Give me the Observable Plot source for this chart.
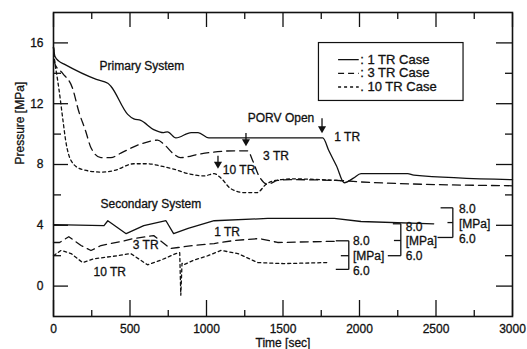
<!DOCTYPE html>
<html><head><meta charset="utf-8">
<script src="https://cdn.jsdelivr.net/npm/d3@7"></script>
<script src="https://cdn.jsdelivr.net/npm/@observablehq/plot@0.6"></script>
<style>
body{margin:0;background:#fff}
#chart svg{font-family:"Liberation Sans",Arial,sans-serif;display:block}
#chart svg text{stroke:#111;stroke-width:0.3px}
</style>
</head><body><div id="chart"></div>
<script>
// ---- Tick values ----
const xMajor = [0, 500, 1000, 1500, 2000, 2500, 3000];
const xMinor = [250, 750, 1250, 1750, 2250, 2750];
const yMajor = [0, 4, 8, 12, 16];
const yMinor = [2, 6, 10, 14];

// ---- Primary system pressure [MPa] ----
const prim1Time = [0, 10, 35, 70, 280, 355, 375, 485, 525, 570, 655, 720, 745, 800, 900, 945, 1015, 1760, 1800, 1850, 1900, 1960, 2010, 2315, 2355, 3000];
const prim1Pres = [15.7, 15.1, 14.8, 14.6, 13.6, 13.35, 13.15, 11.3, 11.0, 10.9, 10.3, 10.1, 10.15, 9.75, 10.1, 10.1, 9.75, 9.75, 8.9, 7.9, 6.8, 7.1, 7.4, 7.4, 7.3, 7.0];

const prim3Time = [0, 10, 60, 125, 165, 210, 245, 310, 375, 440, 570, 680, 720, 785, 830, 960, 1180, 1270, 1300, 1340, 1400, 1465, 1550, 1900, 2010, 3000];
const prim3Pres = [15.7, 14.6, 14.0, 13.0, 11.5, 10.2, 9.1, 8.45, 8.45, 8.75, 9.35, 9.6, 9.35, 8.7, 8.45, 8.7, 8.9, 8.9, 8.3, 7.3, 6.7, 6.95, 7.0, 6.93, 6.85, 6.6];

const prim10Time = [0, 10, 15, 35, 60, 80, 115, 180, 310, 395, 525, 615, 700, 785, 880, 985, 1050, 1095, 1160, 1250, 1330, 1390, 1450, 1570, 1900];
const prim10Pres = [15.7, 14.6, 14.3, 13.0, 11.05, 9.55, 8.25, 7.7, 7.5, 7.6, 8.05, 8.05, 7.9, 7.7, 7.4, 7.25, 7.4, 7.1, 6.4, 6.15, 6.15, 6.7, 6.95, 7.05, 6.93];

// ---- Secondary system pressure (offset scale) ----
const sec1Time = [0, 330, 355, 475, 590, 735, 785, 880, 1050, 1400, 1835, 2010, 2485];
const sec1Pres = [4.05, 3.98, 4.3, 3.45, 3.98, 4.3, 3.45, 3.8, 4.3, 4.45, 4.45, 4.25, 4.1];

const sec3Time = [0, 40, 100, 180, 245, 310, 440, 525, 655, 765, 815, 915, 1050, 1180, 1345, 1465, 1845];
const sec3Pres = [2.87, 2.87, 3.25, 2.67, 2.34, 2.67, 2.93, 3.13, 3.32, 2.47, 2.54, 2.67, 2.8, 3.0, 3.13, 2.87, 2.95];

const sec10Time = [0, 50, 115, 190, 265, 420, 505, 570, 615, 700, 800, 825, 832, 840, 850, 915, 1010, 1095, 1205, 1335, 1505, 1790];
const sec10Pres = [2.0, 2.35, 2.14, 1.55, 1.8, 2.0, 2.14, 1.7, 1.4, 1.7, 2.14, 2.2, -0.6, 1.5, 1.4, 1.7, 2.0, 2.35, 2.14, 1.55, 1.48, 1.55];

// ---- Legend ----
const legendLabels = [": 1 TR Case", ": 3 TR Case", ". 10 TR Case"];

const pts = (ts, ps) => ts.map((t, i) => ({t, p: ps[i]}));
const FONT = 12;
const INK = "#111";

// annotation helpers (data units)
const seg = (x1, y1, x2, y2) => ({x1, y1, x2, y2});
const bracketSegs = [
  // bracket 1
  seg(1930, 1.1, 1930, 2.98), seg(1845, 2.98, 1930, 2.98), seg(1878, 2.0, 1930, 2.0), seg(1845, 1.1, 1930, 1.1),
  seg(2185, 2.0, 2270, 2.0),
  // bracket 2
  seg(2270, 2.0, 2270, 4.1), seg(2218, 4.1, 2270, 4.1), seg(2225, 3.0, 2270, 3.0),
  seg(2510, 3.2, 2610, 3.2),
  // bracket 3
  seg(2610, 3.2, 2610, 5.15), seg(2530, 5.15, 2610, 5.15), seg(2575, 4.18, 2610, 4.18)
];
const bracketText = [
  {x: 1957, y: 2.95, s: "8.0"}, {x: 1957, y: 1.98, s: "[MPa]"}, {x: 1957, y: 1.0, s: "6.0"},
  {x: 2302, y: 3.88, s: "8.0"}, {x: 2302, y: 2.95, s: "[MPa]"}, {x: 2302, y: 1.95, s: "6.0"},
  {x: 2650, y: 5.05, s: "8.0"}, {x: 2650, y: 4.1, s: "[MPa]"}, {x: 2650, y: 3.1, s: "6.0"}
];
const arrows = [
  {x: 1755, y1: 11.05, y2: 10.07},
  {x: 1258, y1: 10.07, y2: 9.2},
  {x: 1075, y1: 8.57, y2: 7.72}
];
const labelsStart = [
  {x: 1835, y: 9.8, s: "1 TR"},
  {x: 1370, y: 8.56, s: "3 TR"},
  {x: 1107, y: 7.64, s: "10 TR"},
  {x: 1050, y: 3.55, s: "1 TR"},
  {x: 518, y: 2.67, s: "3 TR"}
];
const labelsMid = [
  {x: 578, y: 14.47, s: "Primary System"},
  {x: 636, y: 5.4, s: "Secondary System"},
  {x: 1487, y: 11.05, s: "PORV Open"},
  {x: 368, y: 0.9, s: "10 TR"}
];
const legendY = [14.9, 14.0, 13.1];
const legendDash = [null, "6,4", "3,3"];

const lineMark = (ts, ps, dash, curve) => Plot.line(pts(ts, ps), {
  x: "t", y: "p", stroke: INK, strokeWidth: 1.3, strokeDasharray: dash, curve
});

const chart = Plot.plot({
  width: 527, height: 349,
  marginLeft: 53, marginRight: 15, marginTop: 12, marginBottom: 33,
  style: {fontFamily: '"Liberation Sans", Arial, sans-serif', fontSize: FONT + "px", color: INK, background: "#fff", overflow: "visible"},
  x: {domain: [0, 3000]},
  y: {domain: [-2, 18]},
  marks: [
    // axes: labels
    Plot.axisX({anchor: "bottom", ticks: xMajor, tickSize: 0, tickPadding: 8, tickFormat: "d", label: null, fontSize: FONT}),
    Plot.axisY({anchor: "left", ticks: yMajor, tickSize: 0, tickPadding: 10, tickFormat: "d", label: null, fontSize: FONT}),
    // inward ticks
    Plot.axisX({anchor: "bottom", ticks: xMajor, tickSize: -16, tickFormat: () => "", label: null, strokeWidth: 1.3}),
    Plot.axisX({anchor: "bottom", ticks: xMinor, tickSize: -6, tickFormat: () => "", label: null, strokeWidth: 1.3}),
    Plot.axisX({anchor: "top", ticks: xMajor, tickSize: -14, tickFormat: () => "", label: null, strokeWidth: 1.3}),
    Plot.axisX({anchor: "top", ticks: xMinor, tickSize: -6, tickFormat: () => "", label: null, strokeWidth: 1.3}),
    Plot.axisY({anchor: "left", ticks: yMajor, tickSize: -15, tickFormat: () => "", label: null, strokeWidth: 1.3}),
    Plot.axisY({anchor: "left", ticks: yMinor, tickSize: -8, tickFormat: () => "", label: null, strokeWidth: 1.3}),
    Plot.axisY({anchor: "right", ticks: yMajor, tickSize: -17, tickFormat: () => "", label: null, strokeWidth: 1.3}),
    Plot.axisY({anchor: "right", ticks: yMinor, tickSize: -8, tickFormat: () => "", label: null, strokeWidth: 1.3}),
    Plot.frame({stroke: INK, strokeWidth: 1.6}),

    // axis titles
    Plot.text(["Pressure [MPa]"], {frameAnchor: "left", dx: -33, rotate: -90, text: d => d, fontSize: FONT, fill: INK}),
    Plot.text(["Time [sec]"], {frameAnchor: "bottom", dy: 30, text: d => d, fontSize: FONT, fill: INK}),

    // data curves
    lineMark(prim1Time, prim1Pres, null, "monotone-x"),
    lineMark(prim3Time, prim3Pres, "8,5", "monotone-x"),
    lineMark(prim10Time, prim10Pres, "3,3", "monotone-x"),
    lineMark(sec1Time, sec1Pres, null, "linear"),
    lineMark(sec3Time, sec3Pres, "8,5", "linear"),
    lineMark(sec10Time, sec10Pres, "3,3", "linear"),

    // annotations
    Plot.link(bracketSegs, {x1: "x1", y1: "y1", x2: "x2", y2: "y2", stroke: INK, strokeWidth: 1.3}),
    Plot.text(bracketText, {x: "x", y: "y", text: "s", textAnchor: "start", fontSize: FONT, fill: INK}),
    Plot.link(arrows, {x1: "x", x2: "x", y1: "y1", y2: d => d.y2 + 0.3, stroke: INK, strokeWidth: 1.3}),
    Plot.dot(arrows, {x: "x", y: d => d.y2 + 0.3, symbol: "triangle", r: 3, rotate: 180, fill: INK, stroke: "none"}),
    Plot.text(labelsStart, {x: "x", y: "y", text: "s", textAnchor: "start", fontSize: FONT, fill: INK}),
    Plot.text(labelsMid, {x: "x", y: "y", text: "s", fontSize: FONT, fill: INK}),

    // legend
    Plot.rect([{x1: 1735, x2: 2680, y1: 12.18, y2: 15.99}], {x1: "x1", x2: "x2", y1: "y1", y2: "y2", fill: "#fff", stroke: INK, strokeWidth: 1.2}),
    ...legendLabels.map((lab, i) => Plot.link([{y: legendY[i]}], {x1: 1860, x2: 1995, y1: "y", y2: "y", stroke: INK, strokeWidth: 1.3, strokeDasharray: legendDash[i]})),
    Plot.text(legendLabels, {x: 2005, y: (d, i) => legendY[i], text: d => d, textAnchor: "start", fontSize: 13, fill: INK})
  ]
});
document.getElementById("chart").appendChild(chart);
</script>
</body></html>
